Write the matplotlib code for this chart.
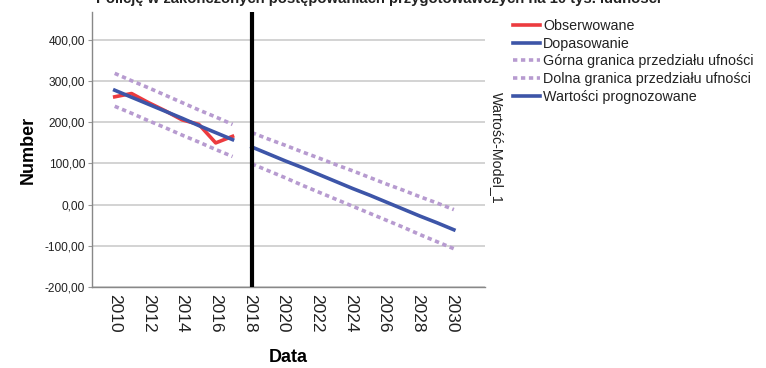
import matplotlib
matplotlib.use("Agg")
import matplotlib.pyplot as plt
from matplotlib.ticker import FuncFormatter

plt.rcParams['font.family'] = ['Liberation Sans', 'DejaVu Sans']

obs_years = [2010, 2011, 2012, 2013, 2014, 2015, 2016, 2017]
observed = [262, 270, 248, 228, 206, 195, 150, 166]
fitted = [278, 261, 244, 227, 210, 192, 175, 158]
fit_upper = [319, 301, 284, 266, 248, 230, 213, 195]
fit_lower = [239, 222, 204, 187, 169, 152, 134, 117]

fc_years = [2018, 2019, 2020, 2021, 2022, 2023, 2024, 2025, 2026, 2027, 2028, 2029, 2030]
forecast = [140, 123, 106, 90, 73, 56, 39, 23, 6, -11, -28, -44, -61]
fc_upper = [175, 159, 144, 128, 113, 97, 82, 66, 50, 35, 19, 4, -12]
fc_lower = [99, 82, 65, 47, 30, 13, -4, -21, -38, -55, -73, -90, -107]

forecast_start = 2018.15
xticks = [2010, 2012, 2014, 2016, 2018, 2020, 2022, 2024, 2026, 2028, 2030]
yticks = [-200, -100, 0, 100, 200, 300, 400]

red = '#ec3b3f'
blue = '#3d55a8'
purple = '#b79bd0'

fig = plt.figure(figsize=(7.66, 3.68), dpi=100)
ax = fig.add_axes([92/766, 1-287/368, (485-92)/766, (287-12)/368])

lw = 2.6
dash = (0, (1.2, 1.0))
ax.plot(obs_years, observed, color=red, lw=lw, zorder=3, label='Obserwowane')
ax.plot(obs_years, fitted, color=blue, lw=lw, zorder=4, label='Dopasowanie')
ax.plot(obs_years, fit_upper, color=purple, lw=lw, ls=dash, zorder=2, label='Górna granica przedziału ufności')
ax.plot(obs_years, fit_lower, color=purple, lw=lw, ls=dash, zorder=2, label='Dolna granica przedziału ufności')
fc_years_shift = [y + 0.15 for y in fc_years]
ax.plot(fc_years_shift, forecast, color=blue, lw=lw, zorder=4, label='Wartości prognozowane')
ax.plot(fc_years_shift, fc_upper, color=purple, lw=lw, ls=dash, zorder=2)
ax.plot(fc_years_shift, fc_lower, color=purple, lw=lw, ls=dash, zorder=2)

ax.axvline(forecast_start, color='black', lw=3, zorder=5)

ax.set_xlim(2008.65, 2032.0)
ax.set_ylim(-200, 468)
ax.set_yticks(yticks)
ax.yaxis.set_major_formatter(FuncFormatter(lambda v, p: f"{v:.2f}".replace('.', ',')))
ax.set_xticks(xticks)
ax.set_xticklabels([str(x) for x in xticks], rotation=270, fontsize=12.5, color='#222222')
ax.tick_params(axis='x', length=0, pad=5)
ax.tick_params(axis='y', length=3, color='#999999', labelsize=8.6, pad=2, labelcolor='#222222')
ax.grid(axis='y', color='#cccccc', lw=1.2)
ax.set_axisbelow(True)
for s in ['top', 'right']:
    ax.spines[s].set_visible(False)
for s in ['left', 'bottom']:
    ax.spines[s].set_color('#888888')
    ax.spines[s].set_linewidth(1.0)

ax.set_xlabel('Data', fontsize=13, fontweight='bold', labelpad=12)
ax.set_ylabel('Number', fontsize=13, fontweight='bold', labelpad=6)

fig.text(497/766, 1-148/368, 'Wartość-Model_1', rotation=270, fontsize=10.3,
         ha='center', va='center', color='#222222')

fig.text(378/766, 1-3.5/368, 'Policję w zakończonych postępowaniach przygotowawczych na 10 tys. ludności',
         fontsize=10.7, fontweight='bold', ha='center', va='baseline', color='#222222')

leg = fig.legend(loc='upper left', bbox_to_anchor=(513/766, 1-19/368), frameon=False,
                 fontsize=10.3, handlelength=1.9, handletextpad=0.2, labelspacing=0.26,
                 borderaxespad=0, borderpad=0)
for t in leg.get_texts():
    t.set_color('#222222')

fig.savefig('out.png', dpi=100)
